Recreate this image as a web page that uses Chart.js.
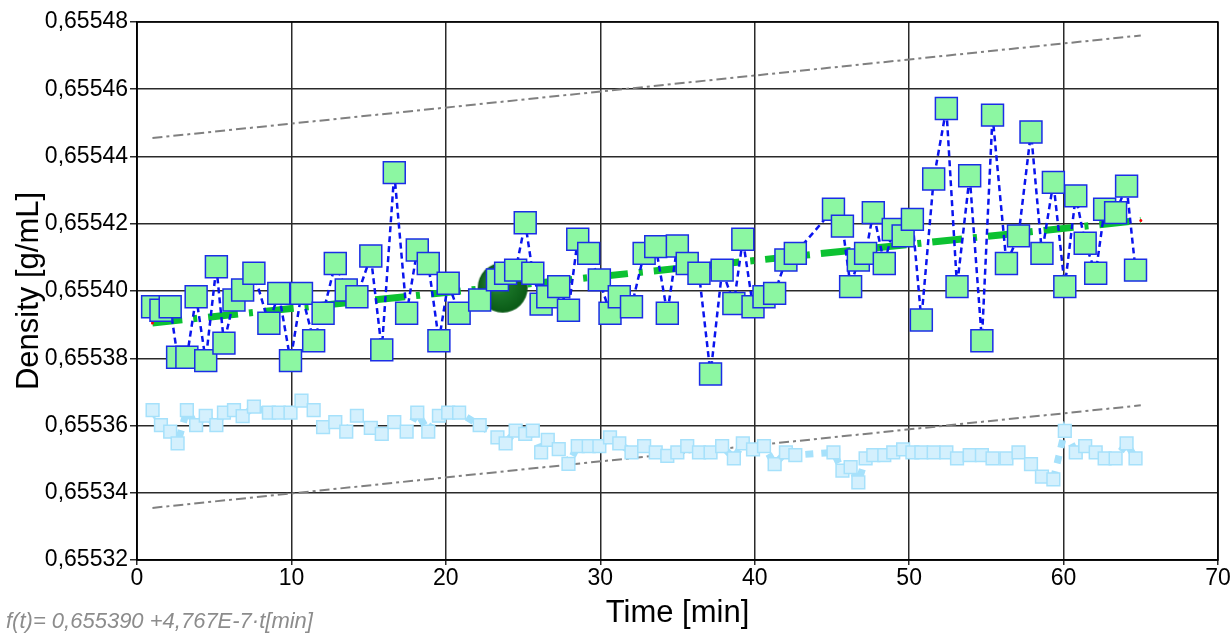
<!DOCTYPE html>
<html>
<head>
<meta charset="utf-8">
<script src="https://cdn.jsdelivr.net/npm/chart.js@4.4.0/dist/chart.umd.min.js"></script>
<style>
  html, body { margin: 0; padding: 0; background: #ffffff; }
  canvas { display: block; }
</style>
</head>
<body>
<canvas id="c" width="1232" height="640"></canvas>
<script>
// ---- data ----
const times = [1.01,1.55,2.15,2.63,3.23,3.83,4.45,5.14,5.63,6.28,
  6.84,7.57,8.54,9.18,9.94,10.65,11.44,12.05,12.84,13.55,
  14.24,15.14,15.85,16.66,17.46,18.15,18.86,19.55,20.15,20.86,
  22.19,23.34,23.87,24.52,25.14,25.63,26.17,26.6,27.31,27.94,
  28.54,29.25,29.94,30.63,31.23,32.02,32.84,33.59,34.34,34.99,
  35.63,36.39,37.14,37.89,38.65,39.23,39.89,40.6,41.29,42.02,
  42.63,45.1,45.68,46.21,46.71,47.18,47.68,48.39,48.97,49.61,
  50.21,50.79,51.59,52.41,53.1,53.92,54.71,55.4,56.3,57.08,
  57.89,58.6,59.34,60.08,60.79,61.4,62.08,62.66,63.37,64.08,64.66];

const density = [0.6553953,0.6553943,0.6553953,0.6553803,0.6553803,0.6553983,0.6553793,0.6554072,0.6553845,0.6553973,
  0.6554003,0.6554053,0.6553904,0.6553993,0.6553793,0.6553993,0.6553852,0.6553934,0.6554082,0.6554003,
  0.6553983,0.6554104,0.6553825,0.6554352,0.6553934,0.6554122,0.6554082,0.6553852,0.6554023,0.6553934,
  0.6553973,0.6554033,0.6554053,0.6554062,0.6554203,0.6554053,0.6553961,0.6553983,0.6554013,0.6553943,
  0.6554154,0.6554112,0.6554033,0.6553934,0.6553983,0.6553953,0.6554112,0.6554132,0.6553934,0.6554134,
  0.6554082,0.6554053,0.6553753,0.6554062,0.6553963,0.6554154,0.6553953,0.6553983,0.6553993,0.6554092,
  0.6554112,0.6554243,0.6554193,0.6554013,0.6554092,0.6554112,0.6554233,0.6554082,0.6554183,0.6554164,
  0.6554213,0.6553914,0.6554333,0.6554543,0.6554013,0.6554343,0.6553852,0.6554523,0.6554082,0.6554164,
  0.6554473,0.6554112,0.6554323,0.6554013,0.6554283,0.6554142,0.6554053,0.6554243,0.6554233,0.6554312,0.6554062];

const reference = [0.6553646,0.6553601,0.6553582,0.6553547,0.6553646,0.6553601,0.6553629,0.6553601,0.6553638,0.6553646,
  0.6553628,0.6553656,0.6553638,0.6553638,0.6553638,0.6553674,0.6553646,0.6553595,0.6553610,0.6553582,
  0.6553629,0.6553593,0.6553575,0.6553610,0.6553582,0.6553638,0.6553582,0.6553629,0.6553638,0.6553638,
  0.6553601,0.6553565,0.6553547,0.6553585,0.6553575,0.6553585,0.6553520,0.6553557,0.6553530,0.6553486,
  0.6553539,0.6553539,0.6553539,0.6553565,0.6553547,0.6553520,0.6553539,0.6553520,0.6553510,0.6553520,
  0.6553539,0.6553520,0.6553520,0.6553539,0.6553502,0.6553547,0.6553529,0.6553539,0.6553485,0.6553520,
  0.6553512,0.6553520,0.6553466,0.6553476,0.6553431,0.6553502,0.6553512,0.6553512,0.6553520,0.6553529,
  0.6553520,0.6553520,0.6553520,0.6553520,0.6553502,0.6553512,0.6553512,0.6553502,0.6553502,0.6553520,
  0.6553485,0.6553448,0.6553440,0.6553584,0.6553520,0.6553539,0.6553520,0.6553502,0.6553502,0.6553547,0.6553502];

const trendTimes = [1.0, 65.0];
const trendValues = [0.6553905, 0.6554210];
const upperLimit = [0.6554455, 0.6554760];
const lowerLimit = [0.6553355, 0.6553660];
const centroidTime = [23.68];
const centroidValue = [0.6554010];
const xTicks = [0, 10, 20, 30, 40, 50, 60, 70];
const yTicks = [0.65532, 0.65534, 0.65536, 0.65538, 0.65540, 0.65542, 0.65544, 0.65546, 0.65548];
const formulaText = 'f(t)= 0,655390 +4,767E-7\u00B7t[min]';

// ---- helpers ----
const pts = (xs, ys) => xs.map((x, i) => ({ x: x, y: ys[i] }));

function makeSphere(r) {
  const c = document.createElement('canvas');
  c.width = c.height = r * 2 + 2;
  const g = c.getContext('2d');
  const cx = r + 1, cy = r + 1;
  const grad = g.createRadialGradient(cx - r * 0.35, cy - r * 0.4, r * 0.1, cx, cy, r);
  grad.addColorStop(0, '#4f9f5c');
  grad.addColorStop(0.45, '#1a7428');
  grad.addColorStop(1, '#0a5a16');
  g.fillStyle = grad;
  g.beginPath(); g.arc(cx, cy, r, 0, Math.PI * 2); g.fill();
  return c;
}

const FONT = "'Liberation Sans', Arial, sans-serif";

const framePlugin = {
  id: 'frame',
  afterDraw(chart) {
    const { ctx, chartArea: a } = chart;
    ctx.save();
    ctx.strokeStyle = '#000';
    ctx.lineWidth = 1.5;
    ctx.strokeRect(a.left, a.top, a.right - a.left, a.bottom - a.top);
    ctx.fillStyle = '#8c8c8c';
    ctx.font = 'italic 22px ' + FONT;
    ctx.textBaseline = 'alphabetic';
    ctx.textAlign = 'left';
    ctx.fillText(formulaText, 6, 628);
    ctx.restore();
  }
};

new Chart(document.getElementById('c'), {
  type: 'line',
  data: {
    datasets: [
      {
        label: 'Density',
        data: pts(times, density),
        borderColor: '#0a14ee',
        borderWidth: 2.5,
        borderDash: [6, 4],
        pointStyle: 'rect',
        pointRadius: 15.5,
        pointBackgroundColor: '#8cf7a2',
        pointBorderColor: '#1b2ee6',
        pointBorderWidth: 1.5,
        tension: 0,
        order: 0
      },
      {
        label: 'Centroid',
        data: pts(centroidTime, centroidValue),
        showLine: false,
        pointStyle: makeSphere(25),
        pointRadius: 25,
        order: 1
      },
      {
        label: 'Trend',
        data: pts(trendTimes, trendValues),
        borderColor: '#0cc232',
        borderWidth: 7,
        borderDash: [30, 11, 4, 11],
        pointRadius: 1.5,
        pointBackgroundColor: '#ff0000',
        pointBorderWidth: 0,
        order: 2
      },
      {
        label: 'Reference',
        data: pts(times, reference),
        borderColor: '#a6e1fb',
        borderWidth: 7,
        borderDash: [8, 8],
        pointStyle: 'rect',
        pointRadius: 9,
        pointBackgroundColor: '#d4f0fd',
        pointBorderColor: '#a6e1fb',
        pointBorderWidth: 1.5,
        tension: 0,
        order: 3
      },
      {
        label: 'Upper',
        data: pts(trendTimes, upperLimit),
        borderColor: '#808080',
        borderWidth: 2,
        borderDash: [10, 4, 3, 4],
        pointRadius: 0,
        order: 4
      },
      {
        label: 'Lower',
        data: pts(trendTimes, lowerLimit),
        borderColor: '#808080',
        borderWidth: 2,
        borderDash: [10, 4, 3, 4],
        pointRadius: 0,
        order: 4
      }
    ]
  },
  options: {
    responsive: false,
    animation: false,
    layout: { autoPadding: false, padding: { left: 0, right: 14, top: 22, bottom: 0 } },
    plugins: { legend: { display: false }, tooltip: { enabled: false } },
    scales: {
      x: {
        type: 'linear',
        min: 0, max: 70,
        afterBuildTicks(s) { s.ticks = xTicks.map(v => ({ value: v })); },
        afterFit(s) { s.height = 80; s.paddingLeft = 0; s.paddingRight = 0; },
        ticks: { color: '#000', font: { family: FONT, size: 23 }, padding: 0, maxRotation: 0 },
        grid: { color: '#2a2a2a', lineWidth: 1.5, tickLength: 5 },
        border: { color: '#000', width: 1.5 },
        title: { display: true, text: 'Time [min]', color: '#000', font: { family: FONT, size: 31 }, padding: { top: 0, bottom: 8 } }
      },
      y: {
        type: 'linear',
        min: 0.65532, max: 0.65548,
        afterBuildTicks(s) { s.ticks = yTicks.map(v => ({ value: v })); },
        afterFit(s) { s.width = 137; s.paddingTop = 0; s.paddingBottom = 0; },
        ticks: {
          color: '#000', font: { family: FONT, size: 23 }, padding: 2,
          callback: v => v.toFixed(5).replace('.', ',')
        },
        grid: { color: '#2a2a2a', lineWidth: 1.5, tickLength: 7 },
        border: { color: '#000', width: 1.5 },
        title: { display: true, text: 'Density [g/mL]', color: '#000', font: { family: FONT, size: 31 }, padding: { top: 11, bottom: 0 } }
      }
    }
  },
  plugins: [framePlugin]
});
</script>
</body>
</html>
